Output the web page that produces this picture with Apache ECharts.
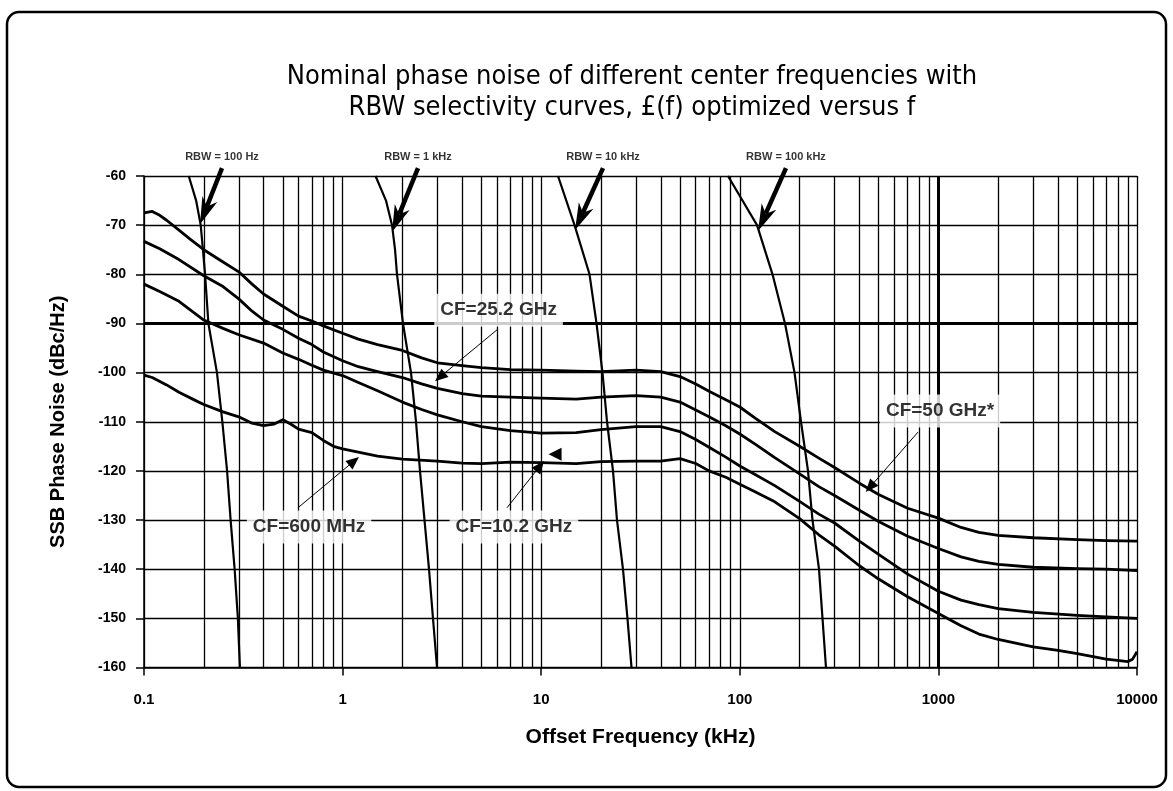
<!DOCTYPE html>
<html><head><meta charset="utf-8">
<script src="https://cdn.jsdelivr.net/npm/echarts@6/dist/echarts.min.js"></script>
<style>html,body{margin:0;padding:0;background:#fff;}#c{width:1173px;height:791px;}</style>
</head><body><div id="c"></div>
<script>
// ---------- text ----------
const titleLines = ['Nominal phase noise of different center frequencies with', 'RBW selectivity curves, \u00A3(f) optimized versus f'];
const xAxisName = 'Offset Frequency (kHz)';
const yAxisName = 'SSB Phase Noise (dBc/Hz)';
const xTickLabels = ['0.1', '1', '10', '100', '1000', '10000'];
const yMin = -160, yMax = -60, yStep = 10;
const minorX = [0.2,0.3,0.4,0.5,0.6,0.7,0.8,0.9, 2,3,4,5,6,7,8,9, 20,30,40,50,60,70,80,90, 200,300,400,500,600,700,800,900, 2000,3000,4000,5000,6000,7000,8000,9000];
const heavyX = [1000];
const heavyY = [-90];

// ---------- phase noise curves [offset kHz, dBc/Hz] ----------
const cf50GHz = [[0.1,-67.5],[0.11,-67.2],[0.12,-68],[0.13,-69],[0.15,-71],[0.17,-72.8],[0.2,-75],[0.25,-77.5],[0.3,-79.5],[0.35,-82],[0.4,-84],[0.5,-86.5],[0.6,-88.5],[0.7,-89.5],[0.8,-90.5],[1,-92],[1.2,-93.2],[1.5,-94.3],[2,-95.5],[2.5,-97],[3,-98],[4,-98.6],[5,-99],[7,-99.4],[10,-99.5],[15,-99.7],[20,-99.8],[30,-99.5],[40,-99.8],[50,-100.8],[60,-102.3],[70,-103.8],[85,-105.5],[100,-107],[120,-109.3],[150,-112],[200,-115],[250,-117.4],[300,-119.3],[400,-122.5],[500,-124.8],[700,-127.6],[1000,-129.6],[1300,-131.5],[1600,-132.5],[2000,-133.1],[3000,-133.6],[5000,-134],[7000,-134.2],[10000,-134.3]];
const cf25GHz = [[0.1,-73.3],[0.12,-74.8],[0.15,-77],[0.2,-80.3],[0.25,-82.5],[0.3,-85],[0.35,-87.5],[0.4,-89.3],[0.5,-91.2],[0.6,-93],[0.7,-94.3],[0.8,-95.8],[1,-97.6],[1.2,-98.8],[1.5,-99.8],[2,-101],[2.5,-102.3],[3,-103.2],[4,-104.3],[5,-104.8],[7,-105],[10,-105.2],[15,-105.4],[20,-105],[30,-104.7],[40,-105],[50,-106],[60,-107.6],[70,-109],[85,-110.8],[100,-112.5],[120,-114.6],[150,-117.3],[200,-120.6],[250,-123.2],[300,-125],[400,-128],[500,-130.3],[700,-133.3],[1000,-135.8],[1300,-137.5],[1600,-138.4],[2000,-139],[3000,-139.6],[5000,-139.9],[7000,-140],[10000,-140.3]];
const cf10GHz = [[0.1,-82],[0.12,-83.5],[0.15,-85.5],[0.2,-89.3],[0.25,-91],[0.3,-92.3],[0.4,-94],[0.5,-96],[0.6,-97.3],[0.7,-98.5],[0.8,-99.5],[1,-100.6],[1.2,-102],[1.5,-103.7],[2,-106],[2.5,-107.5],[3,-108.6],[4,-110],[5,-111],[7,-111.8],[10,-112.3],[15,-112.2],[20,-111.6],[30,-111],[40,-111],[50,-112],[60,-113.6],[70,-115.2],[85,-117.2],[100,-119],[120,-120.8],[150,-123],[200,-126.2],[250,-128.8],[300,-130.6],[400,-134.3],[500,-137],[700,-141],[1000,-144.5],[1300,-146.3],[1600,-147.2],[2000,-148],[3000,-148.8],[5000,-149.4],[7000,-149.7],[10000,-150]];
const cf600MHz = [[0.1,-100.5],[0.11,-101],[0.13,-102.5],[0.15,-104],[0.18,-105.6],[0.2,-106.5],[0.25,-108],[0.3,-109],[0.35,-110.3],[0.4,-110.8],[0.45,-110.5],[0.5,-109.6],[0.55,-110.5],[0.6,-111.5],[0.7,-112.2],[0.8,-113.8],[0.9,-115],[1,-115.5],[1.5,-117],[2,-117.6],[3,-118],[4,-118.4],[5,-118.5],[7,-118.2],[10,-118.3],[15,-118.5],[20,-118.1],[30,-118],[40,-118],[50,-117.5],[60,-118.5],[70,-120],[85,-121.3],[100,-122.7],[120,-124.3],[150,-126.3],[200,-129.7],[250,-133],[300,-135.3],[400,-139.3],[500,-142],[700,-145.6],[1000,-149],[1300,-151.5],[1600,-153.2],[2000,-154.3],[3000,-155.8],[4000,-156.5],[5000,-157.2],[7000,-158.3],[9000,-158.8],[9500,-158.3],[10000,-156.8]];

// ---------- RBW selectivity curves ----------
const rbw100Hz = [[0.168,-60],[0.183,-65],[0.193,-70],[0.198,-75],[0.203,-80],[0.211,-90],[0.233,-100],[0.248,-110],[0.262,-120],[0.273,-130],[0.286,-140],[0.297,-150],[0.304,-160]];
const rbw1kHz = [[1.465,-60],[1.654,-65],[1.774,-70],[1.837,-75],[1.879,-80],[2.014,-90],[2.21,-100],[2.342,-110],[2.453,-120],[2.585,-130],[2.723,-140],[2.852,-150],[2.988,-160]];
const rbw10kHz = [[12.15,-60],[14.72,-70],[17.51,-80],[18.99,-90],[20.35,-100],[21.45,-110],[22.99,-120],[24.08,-130],[25.81,-140],[27.19,-150],[28.49,-160]];
const rbw100kHz = [[87.2,-60],[122.1,-70],[146.1,-80],[168.9,-90],[188.6,-100],[203.3,-110],[220.5,-120],[232.3,-130],[250.5,-140],[260.9,-150],[271.6,-160]];

// ---------- annotations (data coordinates) ----------
const rbwLabels = [['RBW = 100 Hz',0.247,-56.2],['RBW = 1 kHz',2.397,-56.2],['RBW = 10 kHz',20.48,-56.2],['RBW = 100 kHz',170.8,-56.2]];
const rbwArrows = [[[0.247,-58.4],[0.1914,-69.8]],[[2.397,-58.4],[1.774,-71.4]],[[20.48,-58.4],[14.8,-71.0]],[[170.8,-58.4],[123.5,-71.2]]];
const cfLabels = [['CF=25.2 GHz',6.1,-87.3],['CF=600 MHz',0.678,-131.4],['CF=10.2 GHz',7.29,-131.4],['CF=50 GHz*',1019,-107.8]];
const cfArrows = [[[5.99,-91.3],[3.093,-100.9]],[[0.596,-127.5],[1.141,-118.0]],[[6.73,-127.5],[9.86,-119.0]],[[789.5,-112.1],[452.4,-123.3]]];
const cfLoneHead = [[11.74,-116.6]];

const FN = "'Liberation Sans Narrow','Arial Narrow','DejaVu Sans Condensed',sans-serif";
const FB = "'Liberation Sans',Arial,Helvetica,sans-serif";

const chart = echarts.init(document.getElementById('c'), null, {renderer: 'canvas'});

function curve(name, data, w) {
  return {name, type: 'line', data, symbol: 'none', z: 3, silent: true,
    lineStyle: {color: '#000', width: w, join: 'round'}, animation: false};
}

const gridLines = minorX.map(v => ({xAxis: v}))
  .concat(heavyX.map(v => ({xAxis: v, lineStyle: {width: 3}})))
  .concat(heavyY.map(v => ({yAxis: v, lineStyle: {width: 3}})));

const baseGraphics = [
  {id: 'frame', type: 'rect', silent: true, z: 0, shape: {x: 7, y: 12, width: 1159, height: 775, r: 12},
    style: {fill: 'none', stroke: '#000', lineWidth: 2.5}},
  {id: 't1', type: 'text', silent: true, z: 10, style: {x: 632, y: 77, text: titleLines[0], textAlign: 'center', textVerticalAlign: 'middle',
    font: "normal 27px " + FN, fill: '#000'}},
  {id: 't2', type: 'text', silent: true, z: 10, style: {x: 632, y: 108, text: titleLines[1], textAlign: 'center', textVerticalAlign: 'middle',
    font: "normal 27px " + FN, fill: '#000'}}
];

chart.setOption({
  animation: false,
  backgroundColor: '#fff',
  grid: {left: 144, right: 36, top: 176, bottom: 123.5},
  xAxis: {
    type: 'log', logBase: 10, min: 0.1, max: 10000,
    name: xAxisName, nameLocation: 'middle', nameGap: 59,
    nameTextStyle: {fontFamily: FB, fontWeight: 'bold', fontSize: 21, color: '#000'},
    axisLine: {show: true, lineStyle: {color: '#000', width: 1.5}},
    axisTick: {show: true, length: 8, lineStyle: {color: '#000', width: 1.5}},
    minorTick: {show: false},
    splitLine: {show: true, lineStyle: {color: '#000', width: 1.3}},
    axisLabel: {margin: 25, fontFamily: FB, fontWeight: 'bold', fontSize: 15, color: '#000',
      formatter: v => xTickLabels[Math.round(Math.log10(v)) + 1]}
  },
  yAxis: {
    type: 'value', min: yMin, max: yMax, interval: yStep,
    name: yAxisName, nameLocation: 'middle', nameGap: 76,
    nameTextStyle: {fontFamily: FB, fontWeight: 'bold', fontSize: 20, color: '#000'},
    axisLine: {show: true, lineStyle: {color: '#000', width: 1.5}},
    axisTick: {show: true, length: 8, lineStyle: {color: '#000', width: 1.5}},
    splitLine: {show: true, lineStyle: {color: '#000', width: 1.3}},
    axisLabel: {margin: 18, fontFamily: FB, fontWeight: 'bold', fontSize: 14, color: '#000'}
  },
  graphic: baseGraphics,
  series: [
    {type: 'line', data: [], z: 1, silent: true,
      markLine: {silent: true, symbol: 'none', animation: false, label: {show: false},
        lineStyle: {color: '#000', width: 1.3, type: 'solid'}, data: gridLines}},
    curve('rbw100Hz', rbw100Hz, 2.2),
    curve('rbw1kHz', rbw1kHz, 2.2),
    curve('rbw10kHz', rbw10kHz, 2.2),
    curve('rbw100kHz', rbw100kHz, 2.2),
    curve('CF=50 GHz*', cf50GHz, 2.8),
    curve('CF=25.2 GHz', cf25GHz, 2.8),
    curve('CF=10.2 GHz', cf10GHz, 2.8),
    curve('CF=600 MHz', cf600MHz, 2.8),
    {type: 'line', data: [], z: 5, silent: true, clip: false,
      markLine: {silent: true, animation: false, symbol: ['none', 'triangle'], symbolSize: [11, 13], label: {show: false},
        lineStyle: {color: '#000', width: 1, type: 'solid'},
        data: cfArrows.map(a => [{coord: a[0]}, {coord: a[1]}])},
      markPoint: {silent: true, animation: false, symbol: 'triangle', symbolSize: [13, 13], symbolRotate: 90,
        itemStyle: {color: '#000'}, label: {show: false},
        data: cfLoneHead.map(p => ({coord: p}))}},
    {type: 'scatter', z: 6, silent: true, clip: false, symbol: 'rect', symbolSize: 1,
      itemStyle: {color: 'rgba(0,0,0,0)'},
      data: cfLabels.map(l => ({name: l[0], value: [l[1], l[2]]})),
      label: {show: true, position: 'inside', formatter: '{b}', color: '#000', fontFamily: FB, fontWeight: 'bold',
        fontSize: 19, backgroundColor: '#fff', padding: [7, 6]}},
    {type: 'scatter', z: 6, silent: true, clip: false, symbol: 'rect', symbolSize: 1,
      itemStyle: {color: 'rgba(0,0,0,0)'},
      data: rbwLabels.map(l => ({name: l[0], value: [l[1], l[2]]})),
      label: {show: true, position: 'inside', formatter: '{b}', color: '#000', fontFamily: FB, fontWeight: 'bold',
        fontSize: 11}}
  ]
});

// Thick RBW arrows: endpoints mapped through the chart's own axes
const arrowGraphics = [];
rbwArrows.forEach((a, i) => {
  const s = chart.convertToPixel({gridIndex: 0}, a[0]);
  const e = chart.convertToPixel({gridIndex: 0}, a[1]);
  const dx = e[0] - s[0], dy = e[1] - s[1];
  const len = Math.hypot(dx, dy), ux = dx / len, uy = dy / len, nx = -uy, ny = ux;
  const L = 27, W = 8, notch = 19;
  const bx = e[0] - ux * L, by = e[1] - uy * L;
  const mx = e[0] - ux * notch, my = e[1] - uy * notch;
  arrowGraphics.push({id: 'ash' + i, type: 'line', silent: true, z: 20,
    shape: {x1: s[0], y1: s[1], x2: mx, y2: my}, style: {stroke: '#000', lineWidth: 4.5}});
  arrowGraphics.push({id: 'ahd' + i, type: 'polygon', silent: true, z: 20,
    shape: {points: [[e[0], e[1]], [bx + nx * W, by + ny * W], [mx, my], [bx - nx * W, by - ny * W]]},
    style: {fill: '#000'}});
});
chart.setOption({graphic: baseGraphics.concat(arrowGraphics)});
</script></body></html>
